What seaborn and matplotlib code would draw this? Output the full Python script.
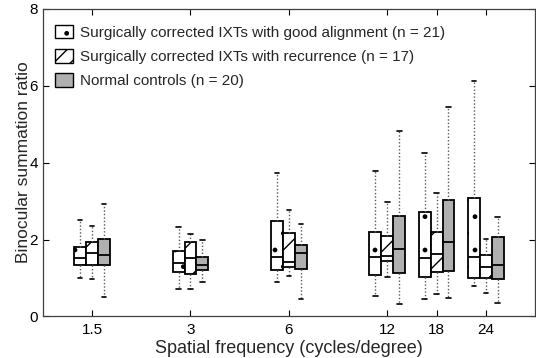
import matplotlib.pyplot as plt
from matplotlib.patches import Patch
import numpy as np
import pandas as pd
import seaborn as sns

freqs = ['1.5', '3', '6', '12', '18', '24']
groups = ['Surgically corrected IXTs with good alignment (n = 21)',
          'Surgically corrected IXTs with recurrence (n = 17)',
          'Normal controls (n = 20)']

# five-number summaries: min, q1, median, q3, max
good = [
    [0.99, 1.33, 1.51, 1.81, 2.51],
    [0.71, 1.16, 1.40, 1.71, 2.32],
    [0.90, 1.21, 1.55, 2.47, 3.74],
    [0.53, 1.08, 1.54, 2.19, 3.79],
    [0.45, 1.03, 1.51, 2.72, 4.25],
    [0.80, 0.99, 1.54, 3.07, 6.13],
]
recur = [
    [0.97, 1.33, 1.66, 1.94, 2.36],
    [0.71, 1.10, 1.52, 1.94, 2.14],
    [1.06, 1.28, 1.42, 2.18, 2.76],
    [1.02, 1.44, 1.58, 2.10, 2.97],
    [0.58, 1.16, 1.62, 2.20, 3.22],
    [0.60, 1.00, 1.28, 1.60, 2.02],
]
normal = [
    [0.51, 1.33, 1.59, 2.01, 2.91],
    [0.90, 1.21, 1.33, 1.54, 2.00],
    [0.46, 1.23, 1.66, 1.87, 2.39],
    [0.33, 1.14, 1.75, 2.62, 4.83],
    [0.49, 1.19, 1.94, 3.03, 5.43],
    [0.36, 0.97, 1.33, 2.07, 2.59],
]

# axis places: octave steps, 18 sits halfway between 12 and 24
xpos = [1, 2, 3, 4, 4.5, 5]

rows = []
for g, summ in zip(groups, [good, recur, normal]):
    for p, vals in zip(xpos, summ):
        for v in vals:
            rows.append({'pos': p, 'group': g, 'ratio': v})
df = pd.DataFrame(rows)

sns.set_style('ticks')
plt.rcParams['font.family'] = ['Liberation Sans', 'DejaVu Sans']
plt.rcParams['hatch.linewidth'] = 1.0

fig = plt.figure(figsize=(5.36, 3.58), dpi=100)
ax = fig.add_axes([0.080, 0.116, 0.918, 0.860])

sns.boxplot(data=df, x='pos', y='ratio', hue='group', hue_order=groups,
            native_scale=True, dodge=True, width=0.73, gap=0,
            whis=(0, 100), fliersize=0,
            palette=['white', 'white', '#b0b0b0'],
            linecolor='black', linewidth=1.3,
            whiskerprops=dict(linestyle=(0, (1, 1.5)), color='0.35', linewidth=1),
            capprops=dict(color='black', linewidth=1.2),
            medianprops=dict(color='black', linewidth=1.3),
            capwidths=0.045, legend=False, ax=ax)

# hatch boxes by their side of the group centre
for patch in ax.patches:
    ext = patch.get_path().get_extents()
    cx = (ext.x0 + ext.x1) / 2
    off = cx - xpos[int(np.argmin([abs(cx - p) for p in xpos]))]
    if off < -0.03:
        patch.set_hatch('.')
    elif abs(off) <= 0.03:
        patch.set_hatch('/')

ax.set_xlim(0.5, 5.5)
ax.set_ylim(0, 8)
ax.set_xticks(xpos)
ax.set_xticklabels(freqs)
ax.set_yticks([0, 2, 4, 6, 8])
ax.tick_params(direction='in', top=True, right=True, length=4,
               labelsize=11, colors='black')
ax.tick_params(axis='x', pad=5)
for s in ax.spines.values():
    s.set_visible(True)
    s.set_linewidth(0.9)
    s.set_color('0.25')
ax.set_xlabel('Spatial frequency (cycles/degree)', fontsize=13, labelpad=2)
ax.set_ylabel('Binocular summation ratio', fontsize=12.5, labelpad=-1)

handles = [Patch(facecolor='white', edgecolor='black', hatch='.', lw=1),
           Patch(facecolor='white', edgecolor='black', hatch='//', lw=1),
           Patch(facecolor='#b0b0b0', edgecolor='black', lw=1)]
ax.legend(handles, groups, loc='upper left', bbox_to_anchor=(0.024, 0.948),
          frameon=False, fontsize=11, borderaxespad=0, borderpad=0,
          handlelength=1.2, handleheight=1.0, handletextpad=0.45,
          labelspacing=0.6)

fig.savefig('out.png', dpi=100)
